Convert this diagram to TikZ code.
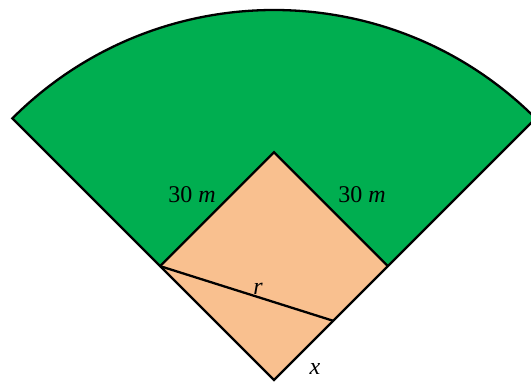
\documentclass[tikz,border=0pt]{standalone}
\usepackage{fontspec}
\setmainfont{Liberation Serif}
\usetikzlibrary{calc}
\definecolor{fieldgreen}{RGB}{0,174,80}
\definecolor{infield}{RGB}{249,192,143}
\begin{document}
\begin{tikzpicture}[x=1pt,y=1pt,
  edge/.style={line width=2.3pt,line join=miter},
  lbl/.style={font=\fontsize{24}{26}\selectfont,inner sep=0pt}]
\useasboundingbox (0,0) rectangle (531,381);
\clip (0,0) rectangle (531,381);
\coordinate (O) at (274,1);
\coordinate (A) at ($(O)+(135:370)$);
\coordinate (B) at ($(O)+(45:370)$);
\coordinate (L) at ($(O)+(135:161)$);
\coordinate (R) at ($(O)+(45:161)$);
\coordinate (T) at ($(L)+(45:161)$);
\coordinate (P) at ($(O)!0.52!(R)$);
% green sector
\fill[fieldgreen] (O) -- (A) arc[start angle=135,end angle=45,radius=370] -- cycle;
% orange square
\fill[infield] (O) -- (L) -- (T) -- (R) -- cycle;
\draw[edge] (O) -- (A) arc[start angle=135,end angle=45,radius=370] -- cycle;
\draw[edge] (L) -- (T) -- (R);
\draw[edge] (L) -- (P);
\node[lbl] (lab1) at (192,186) {30 \textit{m}};
\node[lbl] (lab2) at (362,186) {30 \textit{m}};
\node[lbl] (labr) at (258,92) {\textit{r}};
\node[lbl] (labx) at (315,12) {\textit{x}};
\end{tikzpicture}
\end{document}
